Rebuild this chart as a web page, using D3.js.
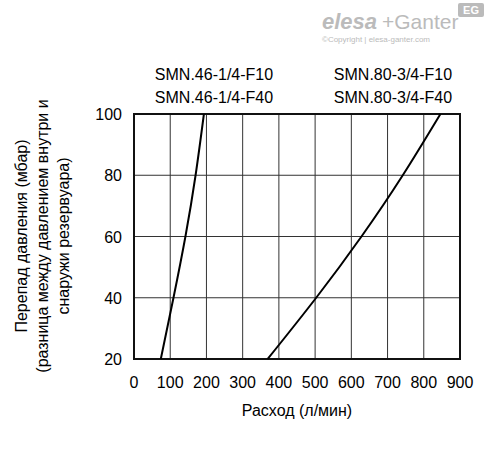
<!DOCTYPE html>
<html><head><meta charset="utf-8">
<script src="https://cdn.jsdelivr.net/npm/d3@7"></script>
<style>body{margin:0;background:#fff}text{font-family:"Liberation Sans",Arial,sans-serif}</style>
</head><body><svg id="c" width="488" height="454"></svg>
<script>
const xTicks=[0,100,200,300,400,500,600,700,800,900];
const yTicks=[20,40,60,80,100];
const s1Flow=[74,109,142,170,193];
const s2Flow=[369,503,628,742,846];
const pressure=[20,40,60,80,100];
const labels1=["SMN.46-1/4-F10","SMN.46-1/4-F40"];
const labels2=["SMN.80-3/4-F10","SMN.80-3/4-F40"];

const svg=d3.select("#c");
const x=d3.scaleLinear().domain([0,900]).range([134,460]);
const y=d3.scaleLinear().domain([20,100]).range([359,114]);
const g=svg.append("g");
g.selectAll(".v").data(xTicks).join("line").attr("x1",d=>x(d)).attr("x2",d=>x(d)).attr("y1",y(20)).attr("y2",y(100)).attr("stroke","#333").attr("stroke-width",1);
g.selectAll(".h").data(yTicks).join("line").attr("x1",x(0)).attr("x2",x(900)).attr("y1",d=>y(d)).attr("y2",d=>y(d)).attr("stroke","#333").attr("stroke-width",1);
g.append("rect").attr("x",x(0)).attr("y",y(100)).attr("width",x(900)-x(0)).attr("height",y(20)-y(100)).attr("fill","none").attr("stroke","#111").attr("stroke-width",2);
const line=d3.line().x(d=>x(d[0])).y(d=>y(d[1])).curve(d3.curveNatural);
[s1Flow,s2Flow].forEach(s=>g.append("path").attr("d",line(s.map((v,i)=>[v,pressure[i]]))).attr("fill","none").attr("stroke","#000").attr("stroke-width",2));
svg.selectAll(".xt").data(xTicks).join("text").attr("x",d=>x(d)).attr("y",388).attr("text-anchor","middle").attr("font-size",16).text(d=>d);
svg.selectAll(".yt").data(yTicks).join("text").attr("x",122).attr("y",d=>y(d)+6).attr("text-anchor","end").attr("font-size",16).text(d=>d);
svg.append("text").attr("x",297).attr("y",416).attr("text-anchor","middle").attr("font-size",16).text("Расход (л/мин)");
const yl=["Перепад давления (мбар)","(разница между давлением внутри и","снаружи резервуара)"];
yl.forEach((t,i)=>svg.append("text").attr("transform",`translate(${27+i*21},236) rotate(-90)`).attr("text-anchor","middle").attr("font-size",16).text(t));
labels1.forEach((t,i)=>svg.append("text").attr("x",214).attr("y",80+i*23).attr("text-anchor","middle").attr("font-size",16).text(t));
labels2.forEach((t,i)=>svg.append("text").attr("x",393).attr("y",80+i*23).attr("text-anchor","middle").attr("font-size",16).text(t));
// logo
svg.append("text").attr("x",322).attr("y",29).attr("font-size",22).attr("font-weight","bold").attr("font-style","italic").attr("fill","#bbb").text("elesa");
svg.append("text").attr("x",382).attr("y",29).attr("font-size",21).attr("fill","#bbb").text("+Ganter");
svg.append("text").attr("x",322).attr("y",42).attr("font-size",8).attr("fill","#bbb").text("©Copyright | elesa-ganter.com");
svg.append("rect").attr("x",458).attr("y",3).attr("width",26).attr("height",14).attr("rx",2).attr("fill","#bbb");
svg.append("text").attr("x",471).attr("y",14).attr("text-anchor","middle").attr("font-size",11).attr("font-weight","bold").attr("fill","#fff").text("EG");
</script></body></html>
